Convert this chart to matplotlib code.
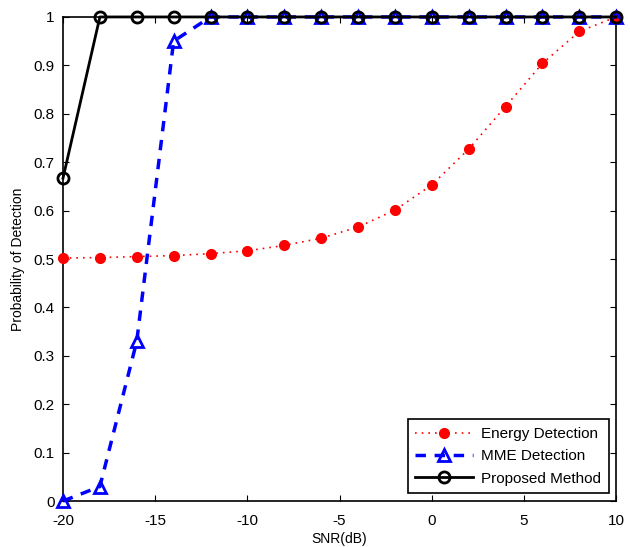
import numpy as np
import matplotlib
matplotlib.use('Agg')
from matplotlib import pyplot as plt

# data
snr = [-20, -18, -16, -14, -12, -10, -8, -6, -4, -2, 0, 2, 4, 6, 8, 10]
energy = [0.502, 0.503, 0.505, 0.507, 0.511, 0.517, 0.528, 0.543, 0.566,
          0.601, 0.653, 0.727, 0.815, 0.904, 0.970, 1.0]
mme = [0.0, 0.03, 0.33, 0.95, 1, 1, 1, 1, 1, 1, 1, 1, 1, 1, 1, 1]
proposed = [0.667, 1, 1, 1, 1, 1, 1, 1, 1, 1, 1, 1, 1, 1, 1, 1]

xticks = [-20, -15, -10, -5, 0, 5, 10]
yticks = np.round(np.arange(0, 1.01, 0.1), 1)
yticklabels = ['0', '0.1', '0.2', '0.3', '0.4', '0.5', '0.6', '0.7', '0.8', '0.9', '1']

plt.rcParams['font.family'] = ['Liberation Sans', 'DejaVu Sans']
plt.rcParams['axes.unicode_minus'] = False

fig = plt.figure(figsize=(6.3, 5.47), dpi=100)
ax = fig.add_axes([0.1, 0.084, 0.878, 0.885])

ax.plot(snr, energy, color='red', linestyle=':', linewidth=1.2, dashes=(1, 3),
        marker='o', markersize=7, markerfacecolor='red', markeredgecolor='red',
        label='Energy Detection', clip_on=False, zorder=3)
ax.plot(snr, mme, color='blue', linestyle='--', linewidth=2.5, dashes=(3, 2.5),
        marker='^', markersize=9, markerfacecolor='none', markeredgecolor='blue',
        markeredgewidth=2, label='MME Detection', clip_on=False, zorder=4)
ax.plot(snr, proposed, color='black', linestyle='-', linewidth=2,
        marker='o', markersize=8, markerfacecolor='none', markeredgecolor='black',
        markeredgewidth=2, label='Proposed Method', clip_on=False, zorder=5)

ax.set_xlim(-20, 10)
ax.set_ylim(0, 1)
ax.set_xticks(xticks)
ax.set_yticks(yticks)
ax.set_yticklabels(yticklabels)
ax.tick_params(direction='in', top=True, right=True, length=4, labelsize=11)
ax.tick_params(axis='x', pad=9)
ax.tick_params(axis='y', pad=6)
for s in ax.spines.values():
    s.set_linewidth(1.2)

ax.set_xlabel('SNR(dB)', fontsize=10, labelpad=3)
ax.set_ylabel('Probability of Detection', fontsize=10, labelpad=6)

leg = ax.legend(loc='lower right', fontsize=11, fancybox=False, edgecolor='black',
                framealpha=1, borderaxespad=0.5, handlelength=3.8, borderpad=0.5,
                labelspacing=0.55, handletextpad=0.5)
leg.get_frame().set_linewidth(1.2)

fig.savefig('out.png', dpi=100)
